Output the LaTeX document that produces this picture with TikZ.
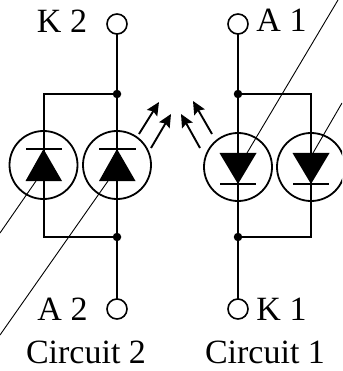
\documentclass[tikz,border=0pt]{standalone}
\usepackage{fontspec}
\setmainfont{Liberation Serif}
\usetikzlibrary{arrows.meta}
\tikzset{
  wire/.style={line width=2pt,black},
  thinline/.style={line width=0.9pt,black},
  ring/.style={circle,draw=black,line width=1.8pt,minimum size=68pt,inner sep=0pt,outer sep=0pt},
  term/.style={circle,draw=black,fill=white,line width=1.6pt,minimum size=20pt,inner sep=0pt,outer sep=0pt},
  junction/.style={circle,fill=black,minimum size=8.5pt,inner sep=0pt,outer sep=0pt},
  lbl/.style={anchor=base,inner sep=0pt,font=\fontsize{34}{34}\selectfont},
  ray/.style={line width=1.9pt,-{Stealth[length=13pt,width=12pt,inset=2pt]}},
  diode/.style={fill=black,draw=none},
  bar/.style={line width=1.7pt}
}
\begin{document}
\begin{tikzpicture}[x=1pt,y=-1pt]
\useasboundingbox (0,0) rectangle (342,371);
\fill[white] (0,0) rectangle (342,371);
\begin{scope}
\clip (0,0) rectangle (342,371);
% circles
\node[ring] (c1) at (43.5,165) {};
\node[ring] (c2) at (117,165) {};
\node[ring] (c3) at (238,167) {};
\node[ring] (c4) at (311,167) {};
% junctions and terminals
\node[junction] (jk2) at (117,94) {};
\node[junction] (ja2) at (117,237) {};
\node[junction] (ja1) at (238,94) {};
\node[junction] (jk1) at (238,237) {};
\node[term] (tk2) at (117,24) {};
\node[term] (ta2) at (117,309) {};
\node[term] (ta1) at (238,24) {};
\node[term] (tk1) at (238,309) {};
% wires
\draw[wire] (tk2) -- (jk2) -- (ja2) -- (ta2);
\draw[wire] (ta1) -- (ja1) -- (jk1) -- (tk1);
\draw[wire] (jk2) -| (c1.north) -- (c1.south) |- (ja2);
\draw[wire] (ja1) -| (c4.north) -- (c4.south) |- (jk1);
% diodes
\fill[diode] (43.5,149) -- (62,181) -- (25.5,181) -- cycle;
\draw[bar] (26,149) -- (62,149);
\fill[diode] (117,149) -- (135.5,181) -- (99,181) -- cycle;
\draw[bar] (99,149) -- (135.5,149);
\fill[diode] (238,184) -- (256.5,153) -- (219.5,153) -- cycle;
\draw[bar] (220,184) -- (256,184);
\fill[diode] (311,184) -- (329.5,153) -- (292.5,153) -- cycle;
\draw[bar] (293,184) -- (329,184);
% thin diagonals
\coordinate (d1a) at (36,181); \coordinate (d1b) at (0,233);
\coordinate (d2a) at (108,181); \coordinate (d2b) at (0,335);
\coordinate (d3a) at (247,153); \coordinate (d3b) at (338,0);
\coordinate (d4a) at (313,153); \coordinate (d4b) at (342,103);
\draw[thinline] (d1a) -- (d1b);
\draw[thinline] (d2a) -- (d2b);
\draw[thinline] (d3a) -- (d3b);
\draw[thinline] (d4a) -- (d4b);
% light rays
\coordinate (r1a) at (139,134); \coordinate (r1b) at (159,102);
\coordinate (r2a) at (151,148); \coordinate (r2b) at (171,114);
\coordinate (r3a) at (212,134); \coordinate (r3b) at (193,101);
\coordinate (r4a) at (200,148); \coordinate (r4b) at (181,114);
\draw[ray] (r1a) -- (r1b);
\draw[ray] (r2a) -- (r2b);
\draw[ray] (r3a) -- (r3b);
\draw[ray] (r4a) -- (r4b);
\end{scope}
% labels
\node[lbl] (lk2) at (62,33) {K 2};
\node[lbl] (la1) at (281.5,32) {A 1};
\node[lbl] (la2) at (62.5,320) {A 2};
\node[lbl] (lk1) at (281.5,320) {K 1};
\node[lbl] (l2) at (86,363) {Circuit 2};
\node[lbl] (l1) at (265,363) {Circuit 1};
\end{tikzpicture}
\end{document}
